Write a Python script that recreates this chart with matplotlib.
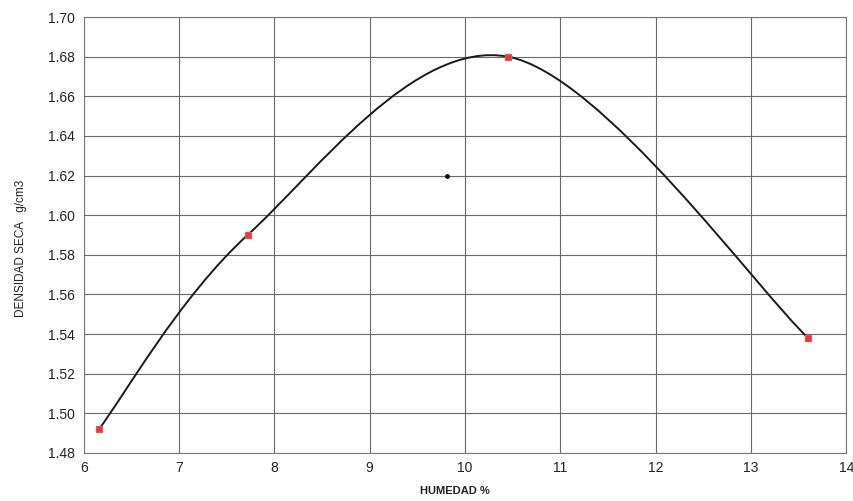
import numpy as np
import matplotlib.pyplot as plt
from matplotlib.path import Path
from matplotlib.patches import PathPatch

plt.rcParams['font.family'] = ['Liberation Sans', 'DejaVu Sans']

# ensayo proctor: humedad vs densidad seca
humedad = [6.16, 7.72, 10.45, 13.6]
densidad = [1.492, 1.590, 1.680, 1.538]
punto_x = [9.81]
punto_y = [1.620]

xticks = [6, 7, 8, 9, 10, 11, 12, 13, 14]
yticks = [1.48, 1.50, 1.52, 1.54, 1.56, 1.58, 1.60, 1.62, 1.64, 1.66, 1.68, 1.70]


def excel_smooth(xs, ys):
    # bezier como la linea suavizada de excel
    p = np.column_stack([xs, ys])
    n = len(p)
    verts = [p[0]]
    codes = [Path.MOVETO]
    for i in range(n - 1):
        prev = p[i - 1] if i > 0 else p[i]
        nxt = p[i + 2] if i + 2 < n else p[i + 1]
        c1 = p[i] + (p[i + 1] - prev) / 6
        c2 = p[i + 1] - (nxt - p[i]) / 6
        verts += [c1, c2, p[i + 1]]
        codes += [Path.CURVE4] * 3
    return Path(verts, codes)


fig, ax = plt.subplots(figsize=(8.54, 5.01), dpi=100)
fig.subplots_adjust(left=0.098, right=0.991, top=0.966, bottom=0.096)

ax.add_patch(PathPatch(excel_smooth(humedad, densidad), fill=False, ec='#1a1a1a', lw=1.4, zorder=3))
ax.plot(humedad, densidad, ls='none', marker='s', ms=5, mfc='#e8353d', mec='#d06060', zorder=4)
ax.plot(punto_x, punto_y, ls='none', marker='o', ms=2.5, color='#111111', zorder=4)

ax.set_xlim(6, 14)
ax.set_ylim(1.48, 1.70)
ax.set_xticks(xticks)
ax.set_yticks(yticks)
ax.set_yticklabels(['%.2f' % v for v in yticks])
ax.grid(True, color='#6a6a6a', lw=0.8)
ax.set_axisbelow(True)
for s in ax.spines.values():
    s.set_color('#777777')
    s.set_linewidth(0.8)
ax.tick_params(length=0, labelsize=10, pad=6, colors='#222222')

ax.set_xlabel('HUMEDAD %', fontsize=8, fontweight='bold', color='#222222')
ax.set_ylabel('DENSIDAD SECA   g/cm3', fontsize=8.5, color='#222222')
ax.xaxis.set_label_coords(0.487, -0.075)
ax.yaxis.set_label_coords(-0.074, 0.47)

fig.savefig('out.png', dpi=100)
